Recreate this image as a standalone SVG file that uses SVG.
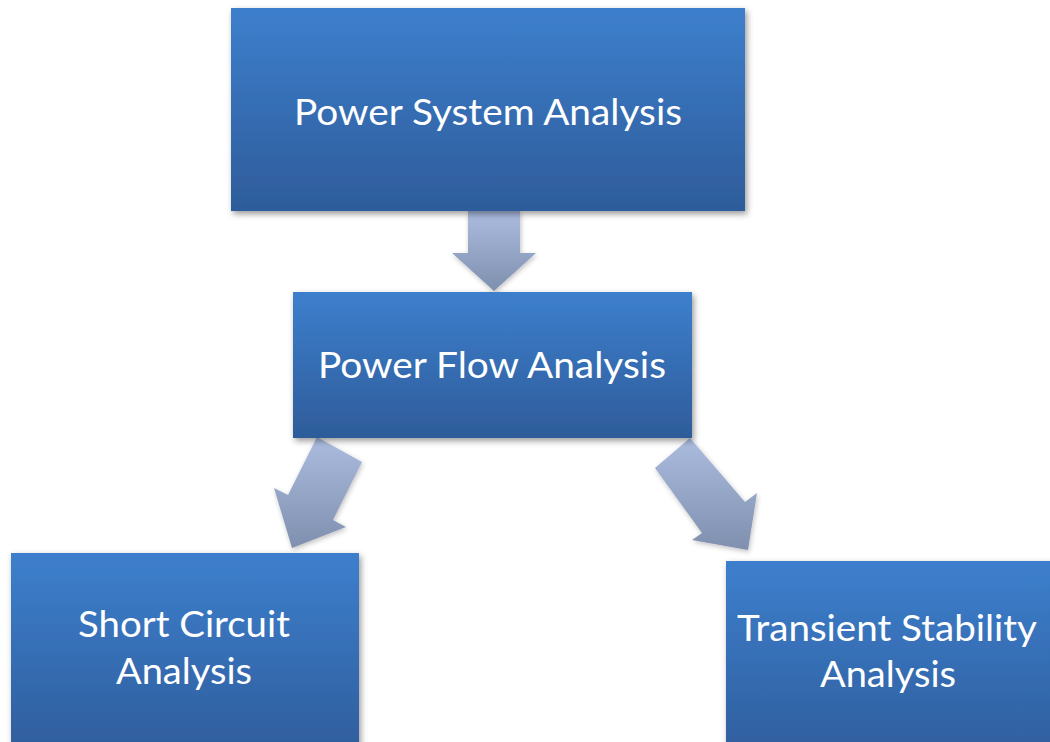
<svg xmlns="http://www.w3.org/2000/svg" width="1050" height="742" viewBox="0 0 1050 742">
  <defs>
    <linearGradient id="boxFill" x1="0" y1="0" x2="0" y2="1">
      <stop offset="0" stop-color="#3d7fcd"/>
      <stop offset="1" stop-color="#2e5c9a"/>
    </linearGradient>
    <linearGradient id="arrowFill" x1="0" y1="0" x2="0" y2="1">
      <stop offset="0" stop-color="#abbcdf"/>
      <stop offset="1" stop-color="#7f8fae"/>
    </linearGradient>
    <filter id="shadow" x="-10%" y="-10%" width="125%" height="130%">
      <feDropShadow dx="2" dy="3" stdDeviation="3" flood-color="#000" flood-opacity="0.4"/>
    </filter>
    <filter id="arrowShadow" x="-20%" y="-20%" width="150%" height="150%">
      <feDropShadow dx="1" dy="2" stdDeviation="2.5" flood-color="#000" flood-opacity="0.25"/>
    </filter>
  </defs>
  <style>
    .box { fill: url(#boxFill); filter: url(#shadow); }
    .arrow { fill: url(#arrowFill); filter: url(#arrowShadow); }
    .label { font-family: Lato, "Open Sans", "Liberation Sans", sans-serif; font-size: 37px; fill: #ffffff; text-anchor: middle; }
  </style>

  <rect width="1050" height="742" fill="#ffffff"/>

  <!-- block arrows between the analysis stages -->
  <g id="connectors">
    <polygon class="arrow" points="468,211 520,211 520,253 536,253 494,291 452,253 468,253"/>
    <polygon class="arrow" points="317,437 362,462 333,520 346,527 292,548 274,488 288,495"/>
    <polygon class="arrow" points="655,468 690,438 745,502 757,493 748,550 692,540 702,533"/>
  </g>

  <g id="power-system-analysis">
    <rect class="box" x="231" y="8" width="514" height="203"/>
    <text class="label" x="488" y="125" textLength="388" lengthAdjust="spacingAndGlyphs">Power System Analysis</text>
  </g>

  <g id="power-flow-analysis">
    <rect class="box" x="293" y="292" width="399" height="146"/>
    <text class="label" x="492" y="378" textLength="348" lengthAdjust="spacingAndGlyphs">Power Flow Analysis</text>
  </g>

  <g id="short-circuit-analysis">
    <rect class="box" x="11" y="553" width="348" height="210"/>
    <text class="label" x="184" y="637" textLength="212" lengthAdjust="spacingAndGlyphs">Short Circuit</text>
    <text class="label" x="184" y="684" textLength="136" lengthAdjust="spacingAndGlyphs">Analysis</text>
  </g>

  <g id="transient-stability-analysis">
    <rect class="box" x="726" y="561" width="340" height="210"/>
    <text class="label" x="887" y="641" textLength="300" lengthAdjust="spacingAndGlyphs">Transient Stability</text>
    <text class="label" x="888" y="687" textLength="136" lengthAdjust="spacingAndGlyphs">Analysis</text>
  </g>
</svg>
